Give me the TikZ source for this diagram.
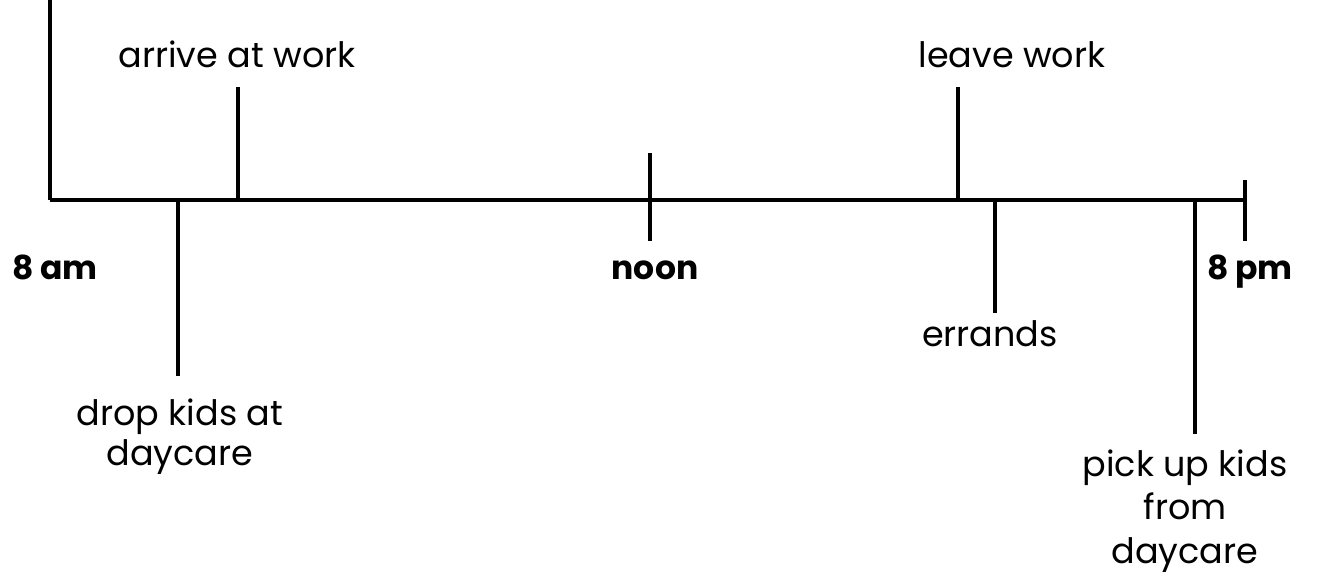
\documentclass[tikz,border=0pt]{standalone}
\usepackage{fontspec}
\setmainfont{Poppins}
\begin{document}
\begin{tikzpicture}[x=0.5pt,y=-0.5pt,
  axis/.style={line width=1.6pt,black},
  lbl/.style={font=\fontsize{17.5}{20}\selectfont,align=center,inner sep=0pt},
  blbl/.style={font=\fontsize{16.5}{20}\selectfont\bfseries,inner sep=0pt}]
\useasboundingbox (0,0) rectangle (1319,575);
\coordinate (start) at (50,200);
\coordinate (end) at (1245,200);
\coordinate (top) at (50,0);
\draw[axis] (start) -- (end);
\draw[axis] (top) -- (start);
% ticks
\coordinate (e1a) at (1245,180); \coordinate (e1b) at (1245,241);
\draw[axis] (e1a) -- (e1b);
\coordinate (n1) at (650,153); \coordinate (n2) at (650,241);
\draw[axis] (n1) -- (n2);
\coordinate (aw1) at (238,87); \coordinate (aw2) at (238,200);
\draw[axis] (aw1) -- (aw2);
\coordinate (dk1) at (178,200); \coordinate (dk2) at (178,376);
\draw[axis] (dk1) -- (dk2);
\coordinate (lw1) at (958,87); \coordinate (lw2) at (958,200);
\draw[axis] (lw1) -- (lw2);
\coordinate (er1) at (995,200); \coordinate (er2) at (995,313);
\draw[axis] (er1) -- (er2);
\coordinate (pk1) at (1195,200); \coordinate (pk2) at (1195,434);
\draw[axis] (pk1) -- (pk2);
% labels
\node[blbl,anchor=base] (am) at (55,279) {8 am};
\node[blbl,anchor=base] (noon) at (655,279) {noon};
\node[blbl,anchor=base] (pm) at (1250,279) {8 pm};
\node[lbl,anchor=base] (arr) at (237,67) {arrive at work};
\node[lbl,anchor=base] (leave) at (1012,67) {leave work};
\node[lbl,anchor=base] (err) at (990,346) {errands};
\node[lbl] (drop) at (180,437) {drop kids at\\daycare};
\node[lbl,font=\fontsize{17.5}{21.75}\selectfont] (pick) at (1185,511) {pick up kids\\from\\daycare};
\end{tikzpicture}
\end{document}
